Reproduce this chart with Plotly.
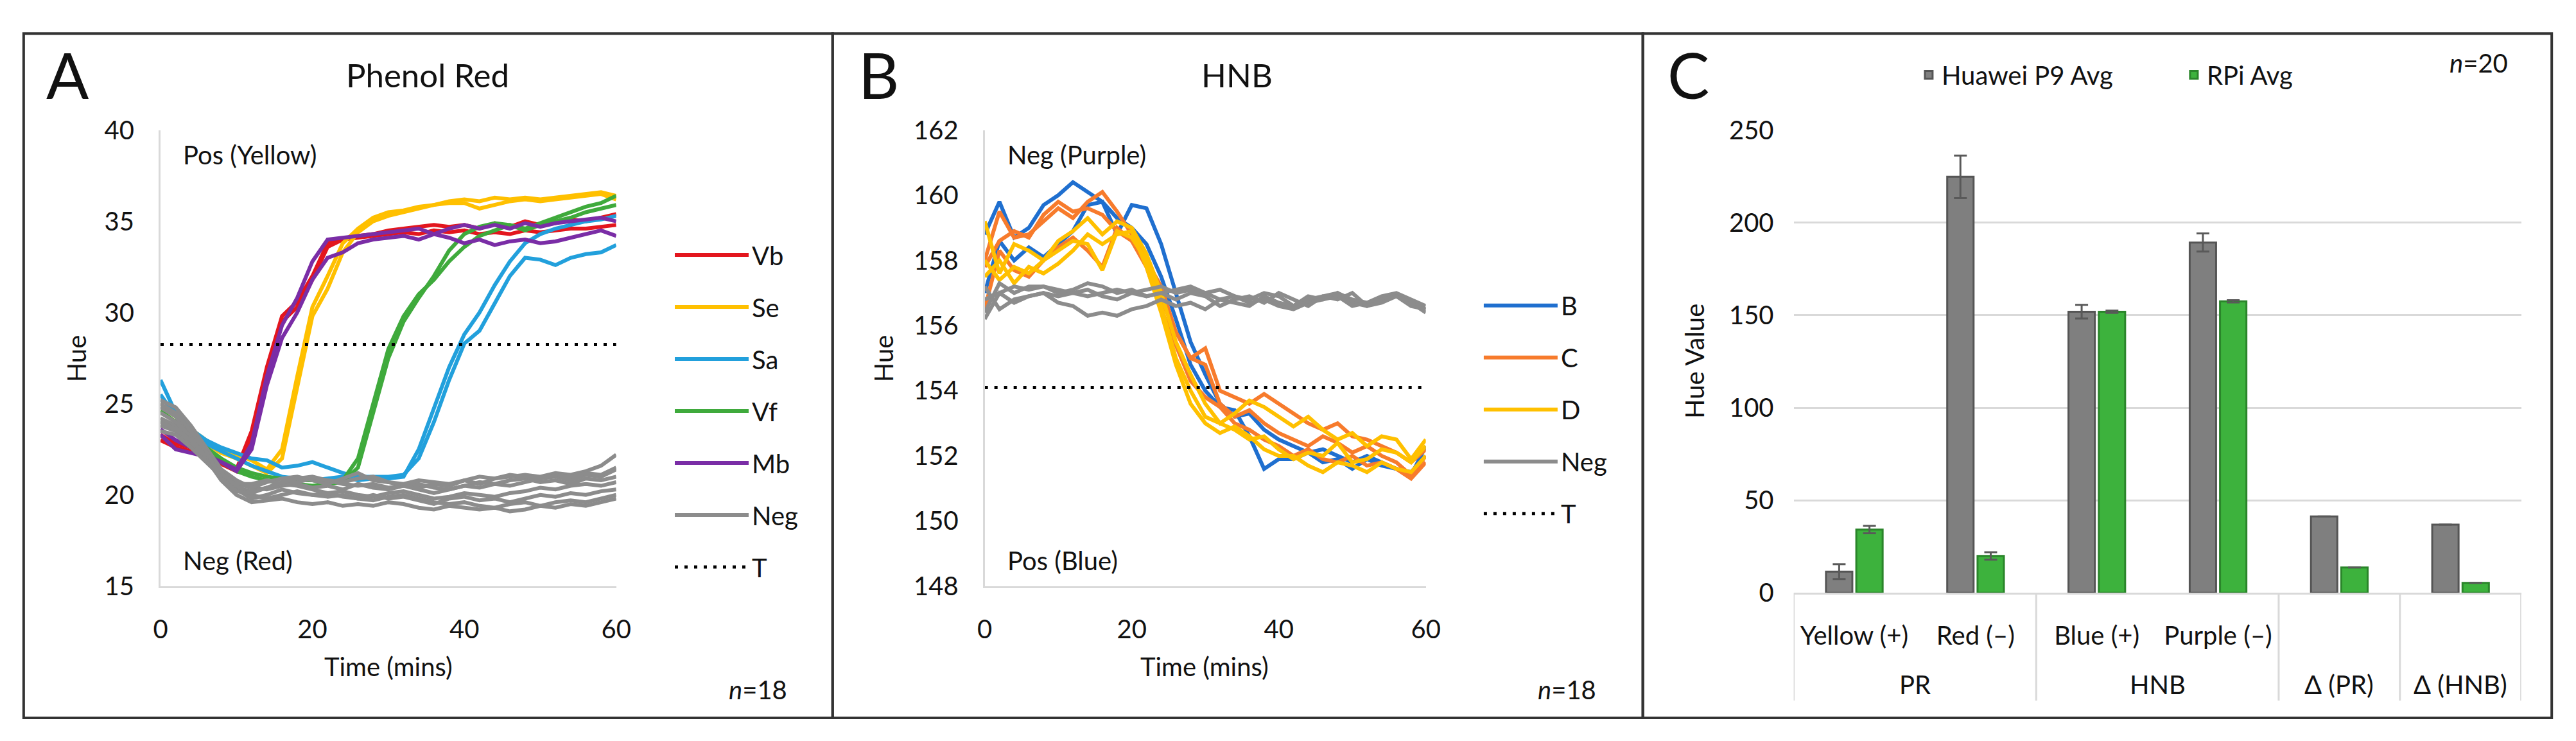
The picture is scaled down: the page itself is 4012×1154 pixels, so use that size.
import plotly.graph_objects as go

# ---------------- DATA ----------------
TIME = list(range(0, 61, 2))

# Panel A: Phenol Red hue traces
PR_SERIES = ["Vb", "Se", "Sa", "Vf", "Mb", "Neg"]
PR_COLORS = {"Vb": "#E3161E", "Se": "#FFC000", "Sa": "#22A0DC", "Vf": "#3FAA3C", "Mb": "#7A2DA6", "Neg": "#8C8C8C"}
PR_DATA = {
    "Vb": [
        [23.3, 22.8, 22.6, 22.3, 21.8, 21.4, 23.5, 27.0, 29.8, 30.6, 32.0, 33.8, 34.0, 34.2, 34.3, 34.5, 34.6, 34.7, 34.8, 34.7, 34.8, 34.6, 34.9, 34.7, 35.0, 34.8, 34.9, 35.1, 35.0, 35.2, 35.4],
        [23.0, 22.6, 22.4, 22.2, 21.7, 21.3, 23.2, 26.8, 29.5, 30.3, 31.8, 33.6, 34.0, 34.1, 34.2, 34.3, 34.4, 34.3, 34.5, 34.4, 34.5, 34.3, 34.4, 34.3, 34.5, 34.4, 34.5, 34.6, 34.6, 34.7, 34.8],
    ],
    "Se": [
        [25.0, 24.3, 23.6, 23.0, 22.5, 22.2, 21.9, 21.4, 22.5, 26.5, 30.3, 32.0, 33.8, 34.6, 35.2, 35.5, 35.6, 35.8, 35.9, 36.1, 36.2, 36.1, 36.3, 36.2, 36.3, 36.2, 36.3, 36.4, 36.5, 36.6, 36.4],
        [24.6, 24.0, 23.3, 22.8, 22.3, 22.0, 21.6, 21.2, 22.0, 25.8, 29.8, 31.3, 33.3, 34.4, 35.0, 35.3, 35.5, 35.7, 35.9, 36.0, 36.0, 35.7, 35.9, 36.1, 36.2, 36.1, 36.2, 36.3, 36.4, 36.5, 36.2],
    ],
    "Sa": [
        [26.3, 24.5, 23.6, 23.0, 22.6, 22.3, 22.0, 21.9, 21.5, 21.6, 21.8, 21.5, 21.2, 21.0, 21.0, 21.0, 21.1, 22.0, 24.0, 26.3, 28.3, 29.0, 30.5, 32.0, 33.0, 32.9, 32.6, 33.0, 33.2, 33.3, 33.7],
        [25.5, 24.3, 23.4, 22.8, 22.4, 22.0, 21.6, 21.3, 21.0, 20.9, 20.8, 20.9, 21.0, 20.8, 20.9, 20.9, 21.0, 22.5, 24.8, 27.0, 28.8, 30.0, 31.5, 32.8, 33.8, 34.3, 34.6, 34.8, 35.0, 35.1, 35.3],
    ],
    "Vf": [
        [24.6, 24.0, 23.2, 22.6, 22.0, 21.5, 21.2, 21.0, 20.9, 20.8, 20.8, 20.7, 20.8, 22.0, 25.0, 28.0, 29.8, 31.0, 31.8, 32.8, 33.6, 34.2, 34.5, 34.8, 34.6, 34.9, 35.2, 35.5, 35.8, 36.0, 36.4],
        [24.0, 23.6, 23.0, 22.4, 21.8, 21.3, 21.0, 20.8, 20.6, 20.6, 20.5, 20.6, 20.7, 21.5, 24.5, 27.5, 29.5, 30.8, 32.0, 33.4, 34.3, 34.7, 34.9, 34.8, 34.5, 34.8, 35.0, 35.2, 35.5, 35.7, 35.9],
    ],
    "Mb": [
        [23.3, 22.5, 22.3, 22.1, 21.8, 21.4, 22.8, 26.5, 29.3, 30.8, 32.8, 34.0, 34.1, 34.2, 34.3, 34.4, 34.5, 34.6, 34.3, 34.6, 34.8, 34.6, 34.8, 34.6, 34.9, 34.7, 34.9, 35.0, 35.1, 35.2, 35.0],
        [23.6, 23.0, 22.6, 22.2, 21.8, 21.3, 22.5, 26.0, 28.6, 30.0, 31.8, 33.0, 33.3, 33.8, 34.0, 34.1, 34.2, 34.0, 34.3, 34.1, 33.8, 34.0, 33.7, 33.9, 34.0, 33.8, 33.9, 34.1, 34.3, 34.5, 34.2],
    ],
    "Neg": [
        [25.2, 24.8, 23.8, 22.6, 21.4, 20.8, 20.4, 20.3, 20.5, 20.6, 20.4, 20.5, 20.3, 20.6, 20.4, 20.3, 20.5, 20.4, 20.6, 20.5, 20.8, 20.6, 20.9, 21.0, 21.1, 21.0, 21.2, 21.1, 21.3, 21.6, 22.2],
        [24.8, 24.3, 23.3, 22.3, 21.0, 20.3, 19.8, 20.0, 20.3, 20.1, 20.0, 19.9, 20.0, 19.8, 19.7, 19.9, 20.0, 19.8, 19.6, 19.5, 19.6, 19.4, 19.3, 19.5, 19.6, 19.4, 19.6, 19.7, 19.6, 19.8, 20.0],
        [24.2, 23.8, 23.0, 22.0, 20.8, 20.0, 19.6, 19.7, 19.8, 19.6, 19.5, 19.6, 19.4, 19.5, 19.4, 19.6, 19.5, 19.3, 19.2, 19.4, 19.3, 19.2, 19.3, 19.1, 19.2, 19.4, 19.3, 19.5, 19.4, 19.6, 19.8],
        [23.8, 23.5, 22.8, 22.0, 21.2, 20.6, 20.4, 20.7, 20.9, 21.0, 20.8, 20.6, 20.9, 21.2, 20.8, 20.7, 20.5, 20.6, 20.4, 20.3, 20.5, 20.7, 20.6, 20.8, 20.9, 20.7, 20.8, 20.6, 20.9, 20.8, 21.0],
        [24.5, 24.0, 23.2, 22.2, 21.0, 20.4, 20.2, 20.4, 20.6, 20.5, 20.3, 20.1, 20.2, 20.0, 19.9, 20.1, 20.2, 20.0, 19.8, 19.9, 20.1, 20.0, 19.9, 20.1, 20.2, 20.4, 20.3, 20.5, 20.6, 20.5, 20.7],
        [23.5, 23.3, 22.6, 21.8, 21.0, 20.6, 20.6, 20.8, 20.6, 20.7, 20.9, 20.8, 20.6, 20.5, 20.6, 20.4, 20.5, 20.3, 20.1, 20.3, 20.5, 20.4, 20.6, 20.5, 20.7, 20.9, 21.0, 20.8, 21.1, 21.0, 21.4],
        [24.0, 23.6, 23.0, 22.2, 21.2, 20.5, 20.0, 19.8, 20.0, 20.2, 20.0, 20.1, 19.9, 19.8, 20.0, 19.8, 19.9, 19.7, 19.5, 19.8, 19.9, 19.7, 19.8, 19.6, 19.8, 20.0, 19.9, 20.1, 20.0, 20.2, 20.3],
        [25.0, 24.5, 23.5, 22.4, 20.9, 20.2, 20.1, 20.4, 20.7, 20.9, 21.0, 20.8, 20.7, 20.9, 21.0, 20.7, 20.6, 20.8, 20.7, 20.6, 20.8, 21.0, 20.9, 21.1, 21.0, 20.9, 21.1, 21.0, 21.2, 21.1, 21.5],
    ],
}
T_PR = 28.25

# Panel B: HNB hue traces
HNB_SERIES = ["B", "C", "D", "Neg"]
HNB_COLORS = {"B": "#1F6FCF", "C": "#F77B2C", "D": "#FFC000", "Neg": "#8C8C8C"}
HNB_DATA = {
    "B": [
        [158.8, 159.8, 158.7, 159.0, 159.7, 160.0, 160.4, 160.1, 159.8, 159.3, 159.0, 158.5, 157.5, 156.2, 154.8, 154.0, 153.5, 153.4, 152.6, 151.6, 151.9, 151.9, 152.1, 151.8, 151.9, 151.6, 151.9, 151.7, 151.6, 151.5, 152.0],
        [157.0, 158.6, 158.0, 158.4, 158.1, 158.5, 158.9, 159.7, 159.8, 158.8, 159.7, 159.6, 158.5, 157.0, 155.5, 154.5, 153.6, 153.2, 153.3, 152.8, 152.5, 152.3, 152.1, 152.2, 152.0, 151.8, 152.0, 151.8, 151.6, 151.4, 152.3],
    ],
    "C": [
        [158.0, 159.5, 158.7, 158.8, 159.2, 159.6, 159.3, 159.8, 160.1, 159.5, 158.8, 158.0, 156.8, 155.8, 155.0, 154.8, 153.6, 153.2, 153.4, 153.0, 152.7, 152.5, 152.3, 152.6, 152.4, 152.1, 152.3, 152.0, 151.8, 151.4, 152.0],
        [157.8, 158.6, 158.9, 158.7, 159.4, 159.8, 159.5, 159.6, 159.4, 158.9, 158.6, 158.0, 157.2, 155.8, 155.0, 155.3, 154.0, 153.8, 153.6, 153.9, 153.6, 153.3, 153.0, 152.8, 153.0, 152.6, 152.5, 152.3, 152.1, 151.8, 152.2],
        [156.5, 158.3, 157.7, 157.5, 158.0, 158.4, 158.7, 158.3, 157.8, 159.0, 158.6, 157.8, 156.5, 155.4, 154.3, 153.8, 153.5, 153.0, 152.8, 152.5, 152.3, 152.0, 152.2, 151.9, 151.8, 152.0, 151.7, 151.8, 151.6, 151.3, 151.8],
    ],
    "D": [
        [159.2, 157.6, 158.5, 158.3, 158.0, 158.6, 158.9, 159.3, 158.8, 159.2, 159.0, 158.2, 157.0, 155.5, 154.5, 153.6, 153.0, 153.3, 153.7, 153.5, 153.2, 152.9, 153.2, 152.8, 152.5, 152.7, 152.3, 152.6, 152.5, 151.9, 152.5],
        [158.0, 157.4, 157.8, 157.6, 158.0, 158.3, 158.6, 158.5, 157.7, 158.9, 158.7, 158.0, 156.6, 155.0, 154.0, 153.2, 153.0, 152.8, 152.5, 152.6, 152.2, 151.9, 152.1, 152.0, 152.4, 151.8, 151.9, 152.2, 152.1, 151.8, 152.3],
        [157.5, 158.0, 157.3, 157.8, 157.6, 157.9, 158.3, 158.8, 158.5, 158.8, 158.9, 157.8, 156.4, 154.8, 153.6, 153.0, 152.7, 152.9, 152.6, 152.2, 152.0, 152.0, 151.7, 151.5, 151.8, 151.7, 151.5, 151.8, 151.6, 151.5, 152.0],
    ],
    "Neg": [
        [156.4, 157.3, 157.0, 157.2, 157.2, 157.1, 157.0, 156.9, 157.0, 157.1, 157.0, 157.1, 157.2, 157.0, 157.1, 157.0, 157.1, 156.9, 156.8, 157.0, 156.9, 156.6, 156.8, 156.9, 157.0, 156.8, 156.7, 156.9, 157.0, 156.8, 156.6],
        [156.8, 157.0, 157.2, 157.1, 157.2, 157.0, 157.1, 157.3, 157.2, 157.0, 157.1, 156.9, 157.0, 157.1, 157.2, 157.0, 156.8, 156.7, 156.6, 156.9, 156.7, 156.6, 156.9, 156.8, 157.0, 156.7, 156.6, 156.8, 156.9, 156.7, 156.5],
        [157.2, 156.5, 156.8, 156.9, 157.0, 156.7, 156.6, 156.3, 156.4, 156.3, 156.5, 156.6, 156.8, 156.6, 156.7, 156.5, 156.8, 156.9, 156.7, 156.8, 156.6, 156.5, 156.7, 156.8, 156.9, 156.6, 156.7, 156.8, 156.9, 156.7, 156.4],
        [156.2, 157.0, 156.7, 156.9, 157.0, 156.9, 157.0, 157.1, 156.9, 156.8, 157.0, 156.9, 157.0, 156.8, 157.0, 156.9, 156.6, 156.8, 156.9, 156.7, 157.0, 156.8, 156.6, 156.9, 156.8, 157.0, 156.6, 156.7, 156.9, 156.6, 156.5],
    ],
}
T_HNB = 154.1

# Panel C: bar chart
C_CATEGORIES = ["Yellow (+)", "Red (–)", "Blue (+)", "Purple (–)", "Δ (PR)", "Δ (HNB)"]
C_TICKTEXT = ["Yellow (+)", "Red (–)", "Blue (+)", "Purple (–)", "", ""]
C_GROUPS = ["PR", "HNB", "Δ (PR)", "Δ (HNB)"]
C_GROUP_POS = [0.5, 2.5, 4, 5]
HUAWEI = [11.5, 224.8, 151.9, 189.3, 41.3, 36.9]
HUAWEI_ERR = [4.0, 11.5, 3.7, 4.9, 0, 0]
RPI = [34.2, 20.0, 151.9, 157.5, 13.7, 5.4]
RPI_ERR = [2.0, 2.0, 0.6, 0.6, 0, 0]
C_YTICKS = [0, 50, 100, 150, 200, 250]

# ---------------- LAYOUT HELPERS ----------------
W, H = 4012, 1154
FONT = "Lato, Open Sans, sans-serif"
TXT = "#111111"
LW = 6


def px(x):
    return x / W


def py(y):
    return 1 - y / H


fig = go.Figure()

# Panel A traces
for s in PR_SERIES:
    for i, ys in enumerate(PR_DATA[s]):
        fig.add_trace(go.Scatter(
            x=TIME, y=ys, mode="lines", name=s, legendgroup="A" + s,
            showlegend=(i == 0), legend="legend",
            line=dict(color=PR_COLORS[s], width=LW), xaxis="x", yaxis="y"))
fig.add_trace(go.Scatter(
    x=[TIME[0], TIME[-1]], y=[T_PR, T_PR], mode="lines", name="T", legendgroup="AT",
    legend="legend", line=dict(color="#000000", width=5, dash="5px,10px"), xaxis="x", yaxis="y"))

# Panel B traces
for s in HNB_SERIES:
    for i, ys in enumerate(HNB_DATA[s]):
        fig.add_trace(go.Scatter(
            x=TIME, y=ys, mode="lines", name=s, legendgroup="B" + s,
            showlegend=(i == 0), legend="legend2",
            line=dict(color=HNB_COLORS[s], width=LW), xaxis="x2", yaxis="y2"))
fig.add_trace(go.Scatter(
    x=[TIME[0], TIME[-1]], y=[T_HNB, T_HNB], mode="lines", name="T", legendgroup="BT",
    legend="legend2", line=dict(color="#000000", width=5, dash="5px,10px"), xaxis="x2", yaxis="y2"))

# Panel C bars
fig.add_trace(go.Bar(
    x=C_CATEGORIES, y=HUAWEI, name="Huawei P9 Avg", legend="legend3",
    marker=dict(color="#7F7F7F", line=dict(color="#555555", width=3)),
    error_y=dict(type="data", array=HUAWEI_ERR, visible=True, color="#595959", thickness=3, width=10),
    xaxis="x3", yaxis="y3"))
fig.add_trace(go.Bar(
    x=C_CATEGORIES, y=RPI, name="RPi Avg", legend="legend3",
    marker=dict(color="#3DB23D", line=dict(color="#2A852A", width=3)),
    error_y=dict(type="data", array=RPI_ERR, visible=True, color="#595959", thickness=3, width=10),
    xaxis="x3", yaxis="y3"))

axis_common = dict(showgrid=False, zeroline=False, ticks="", showline=True,
                   linecolor="#D9D9D9", linewidth=3,
                   tickfont=dict(family=FONT, size=40, color=TXT), ticklabelstandoff=30)

shapes = []
for x0, x1 in [(17, 1288), (1288, 2561), (2561, 3989)]:
    shapes.append(dict(type="rect", xref="paper", yref="paper", x0=px(x0), x1=px(x1),
                       y0=py(1132), y1=py(20), line=dict(color="#333333", width=4)))
for xd in [-0.5, 1.5, 3.5, 4.5, 5.5]:
    shapes.append(dict(type="line", xref="x3", yref="paper", x0=xd, x1=xd,
                       y0=py(929), y1=py(1104), line=dict(color="#D9D9D9", width=3)))


def ann(text, x, y, size=40, xanchor="center", yanchor="middle", **kw):
    return dict(text=text, x=px(x), y=py(y), xref="paper", yref="paper", showarrow=False,
                xanchor=xanchor, yanchor=yanchor, font=dict(family=FONT, size=size, color=TXT), **kw)


annotations = [
    ann("A", 50, 87, size=98, xanchor="left"),
    ann("Phenol Red", 652, 87, size=51),
    ann("B", 1327, 87, size=98, xanchor="left"),
    ann("HNB", 1923, 87, size=51),
    ann("C", 2598, 87, size=98, xanchor="left"),
    ann("Pos (Yellow)", 265, 217, xanchor="left"),
    ann("Neg (Red)", 265, 876, xanchor="left"),
    ann("Neg (Purple)", 1561, 217, xanchor="left"),
    ann("Pos (Blue)", 1561, 876, xanchor="left"),
    ann("Hue", 100, 548, textangle=-90),
    ann("Hue", 1368, 548, textangle=-90),
    ann("Hue Value", 2642, 552, textangle=-90),
    ann("Time (mins)", 590, 1049),
    ann("Time (mins)", 1872, 1049),
    ann("<i>n</i>=18", 1219, 1086, xanchor="right"),
    ann("<i>n</i>=18", 2490, 1086, xanchor="right"),
    ann("<i>n</i>=20", 3922, 68, xanchor="right"),
]
for g, gp in zip(C_GROUPS, C_GROUP_POS):
    annotations.append(dict(text=g, x=gp, y=py(1078), xref="x3", yref="paper", showarrow=False,
                            xanchor="center", yanchor="middle",
                            font=dict(family=FONT, size=40, color=TXT)))

legend_common = dict(font=dict(family=FONT, size=40, color=TXT), bgcolor="rgba(0,0,0,0)",
                     traceorder="grouped", itemwidth=115, itemclick=False)

fig.update_layout(
    width=W, height=H, margin=dict(l=0, r=0, t=0, b=0),
    paper_bgcolor="white", plot_bgcolor="white",
    font=dict(family=FONT, size=40, color=TXT),
    xaxis=dict(domain=[px(232), px(948)], range=[0, 60], tickvals=[0, 20, 40, 60], anchor="y", **axis_common),
    yaxis=dict(domain=[py(918), py(177)], range=[15, 40], tickvals=[15, 20, 25, 30, 35, 40], anchor="x", **axis_common),
    xaxis2=dict(domain=[px(1527), px(2220)], range=[0, 60], tickvals=[0, 20, 40, 60], anchor="y2", **axis_common),
    yaxis2=dict(domain=[py(918), py(177)], range=[148, 162], tickvals=list(range(148, 163, 2)), anchor="x2", **axis_common),
    xaxis3=dict(domain=[px(2798), px(3941)], type="category", range=[-0.5, 5.5], anchor="y3",
                tickvals=C_CATEGORIES, ticktext=C_TICKTEXT, showgrid=False, zeroline=False, ticks="",
                showline=True, linecolor="#D9D9D9", linewidth=3,
                tickfont=dict(family=FONT, size=40, color=TXT), ticklabelstandoff=30),
    yaxis3=dict(domain=[py(929), py(177)], range=[0, 250], tickvals=C_YTICKS, anchor="x3",
                showgrid=True, gridcolor="#D9D9D9", gridwidth=3, zeroline=False, showline=False, ticks="",
                tickfont=dict(family=FONT, size=40, color=TXT), ticklabelstandoff=30),
    barmode="group", bargap=0.5, bargroupgap=0.13,
    legend=dict(x=px(1035), y=py(346), xanchor="left", yanchor="top", tracegroupgap=26, **legend_common),
    legend2=dict(x=px(2306), y=py(428), xanchor="left", yanchor="top", tracegroupgap=26, **legend_common),
    legend3=dict(x=px(2990), y=py(87), xanchor="left", yanchor="middle", orientation="h",
                 font=dict(family=FONT, size=40, color=TXT), bgcolor="rgba(0,0,0,0)",
                 entrywidth=368, entrywidthmode="pixels", itemclick=False),
    shapes=shapes, annotations=annotations,
)

fig.write_html("out.html")
